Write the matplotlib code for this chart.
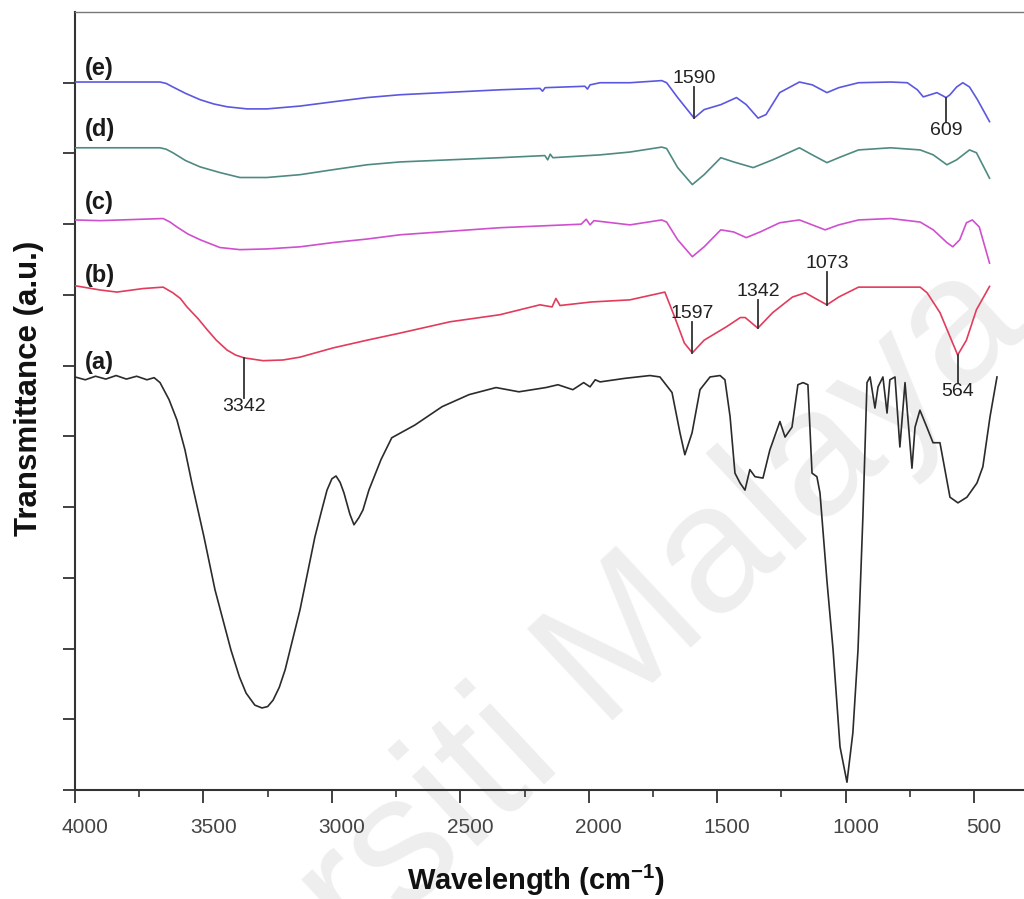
"""
FTIR spectra of samples (a)-(e), stacked with a vertical offset.
"""
import matplotlib
matplotlib.use("Agg")
import matplotlib.pyplot as plt
import matplotlib.transforms as mtransforms
import numpy as np
from matplotlib.ticker import MultipleLocator

plt.rcParams["font.family"] = ["Liberation Sans", "DejaVu Sans"]
plt.rcParams["mathtext.fontset"] = "custom"
plt.rcParams["mathtext.rm"] = "Liberation Sans"
plt.rcParams["mathtext.bf"] = "Liberation Sans:bold"

# ---- spectra (wavenumber in cm-1, offset transmittance in a.u.) ----
wn_a = [4000, 3960, 3920, 3880, 3840, 3800, 3760, 3720, 3692, 3669, 3634, 3603,
        3572, 3545, 3498, 3455, 3393, 3360, 3334, 3300, 3272, 3250, 3229, 3205,
        3182, 3124, 3066, 3040, 3019, 3000, 2984, 2968, 2953, 2930, 2914, 2895,
        2879, 2856, 2809, 2767, 2677, 2571, 2466, 2361, 2272, 2167, 2120, 2062,
        2020, 1995, 1975, 1956, 1860, 1762, 1723, 1676, 1645, 1626, 1598, 1567,
        1528, 1489, 1470, 1450, 1431, 1411, 1392, 1373, 1353, 1322, 1295, 1256,
        1236, 1209, 1186, 1166, 1147, 1131, 1112, 1100, 1073, 1049, 1022, 995,
        972, 952, 933, 917, 905, 886, 874, 855, 839, 828, 808, 789, 769, 742,
        730, 711, 684, 660, 633, 594, 563, 528, 489, 466, 438, 411]
tr_a = [5.84, 5.80, 5.85, 5.81, 5.86, 5.81, 5.85, 5.80, 5.83, 5.76, 5.52, 5.23,
        4.81, 4.34, 3.58, 2.83, 1.98, 1.60, 1.37, 1.20, 1.16, 1.18, 1.27, 1.45,
        1.70, 2.55, 3.58, 3.95, 4.24, 4.40, 4.44, 4.35, 4.20, 3.90, 3.75, 3.85,
        3.96, 4.24, 4.67, 4.98, 5.16, 5.42, 5.59, 5.69, 5.63, 5.69, 5.73, 5.66,
        5.76, 5.70, 5.80, 5.77, 5.82, 5.86, 5.84, 5.62, 5.05, 4.74, 5.05, 5.66,
        5.84, 5.86, 5.80, 5.28, 4.48, 4.34, 4.24, 4.53, 4.43, 4.41, 4.81, 5.21,
        4.99, 5.13, 5.73, 5.76, 5.73, 4.48, 4.43, 4.20, 2.96, 1.98, 0.61, 0.11,
        0.81, 1.98, 3.86, 5.76, 5.84, 5.40, 5.70, 5.84, 5.33, 5.80, 5.84, 4.85,
        5.76, 4.55, 5.13, 5.37, 5.13, 4.91, 4.91, 4.14, 4.06, 4.14, 4.34, 4.57,
        5.28, 5.84]

wn_b = [4000, 3903, 3837, 3735, 3657, 3619, 3590, 3564, 3520, 3486, 3450, 3408,
        3375, 3342, 3268, 3190, 3124, 2996, 2863, 2735, 2540, 2346, 2190, 2143,
        2128, 2112, 1990, 1840, 1716, 1704, 1666, 1628, 1597, 1551, 1464, 1410,
        1391, 1342, 1284, 1207, 1157, 1118, 1073, 1027, 950, 825, 710, 683, 633,
        564, 530, 491, 440]
tr_b = [7.13, 7.07, 7.04, 7.09, 7.11, 7.03, 6.95, 6.83, 6.66, 6.51, 6.36, 6.22,
        6.15, 6.11, 6.07, 6.08, 6.12, 6.25, 6.36, 6.46, 6.62, 6.72, 6.86, 6.83,
        6.95, 6.85, 6.90, 6.93, 7.03, 7.04, 6.69, 6.32, 6.18, 6.36, 6.55, 6.68,
        6.68, 6.53, 6.75, 6.97, 7.03, 6.95, 6.86, 6.97, 7.11, 7.11, 7.11, 7.03,
        6.75, 6.15, 6.36, 6.79, 7.12]

wn_c = [4000, 3903, 3657, 3630, 3603, 3560, 3513, 3436, 3358, 3253, 3124, 2996,
        2863, 2735, 2346, 2030, 2010, 1995, 1980, 1840, 1716, 1697, 1654, 1597,
        1551, 1486, 1436, 1387, 1333, 1257, 1180, 1130, 1080, 1027, 950, 825,
        710, 659, 606, 583, 556, 530, 507, 480, 440]
tr_c = [8.06, 8.05, 8.08, 8.03, 7.96, 7.86, 7.78, 7.67, 7.64, 7.65, 7.68, 7.74,
        7.79, 7.85, 7.95, 8.00, 8.07, 7.99, 8.05, 7.99, 8.06, 8.03, 7.78, 7.54,
        7.68, 7.92, 7.89, 7.81, 7.89, 8.02, 8.06, 7.99, 7.92, 7.99, 8.06, 8.08,
        8.03, 7.92, 7.74, 7.68, 7.78, 8.02, 8.06, 7.96, 7.45]

wn_d = [4000, 3669, 3645, 3619, 3570, 3513, 3436, 3358, 3253, 3124, 2996, 2863,
        2735, 2346, 2171, 2160, 2150, 2140, 1956, 1840, 1716, 1697, 1654, 1597,
        1551, 1486, 1436, 1360, 1284, 1180, 1130, 1073, 1027, 950, 825, 710, 659,
        606, 568, 518, 491, 440]
tr_d = [9.08, 9.08, 9.06, 9.01, 8.90, 8.81, 8.73, 8.66, 8.66, 8.70, 8.77, 8.84,
        8.88, 8.94, 8.97, 8.91, 8.99, 8.94, 8.98, 9.02, 9.09, 9.07, 8.80, 8.56,
        8.70, 8.94, 8.88, 8.80, 8.91, 9.08, 8.98, 8.87, 8.94, 9.05, 9.08, 9.05,
        8.98, 8.84, 8.91, 9.05, 9.01, 8.65]

wn_e = [4000, 3669, 3645, 3619, 3570, 3513, 3460, 3408, 3330, 3253, 3124, 2996,
        2863, 2735, 2346, 2190, 2180, 2170, 2015, 2005, 1995, 1956, 1840, 1716,
        1697, 1654, 1590, 1551, 1486, 1425, 1387, 1341, 1310, 1257, 1180, 1130,
        1073, 1027, 950, 825, 760, 721, 698, 671, 645, 609, 594, 568, 544, 518,
        487, 440]
tr_e = [10.01, 10.01, 9.99, 9.94, 9.85, 9.76, 9.70, 9.66, 9.63, 9.63, 9.67, 9.73,
        9.79, 9.83, 9.90, 9.92, 9.88, 9.93, 9.95, 9.91, 9.97, 10.00, 10.00, 10.03,
        10.00, 9.79, 9.50, 9.62, 9.69, 9.79, 9.69, 9.50, 9.55, 9.86, 10.01, 9.97,
        9.86, 9.93, 10.00, 10.01, 10.00, 9.90, 9.80, 9.83, 9.86, 9.79, 9.83, 9.94,
        10.00, 9.94, 9.76, 9.45]

sample_labels = ["(a)", "(b)", "(c)", "(d)", "(e)"]

# marked band positions
peak_sample = ["(b)", "(b)", "(b)", "(b)", "(b)", "(e)", "(e)"]
peak_wn = [3342, 1597, 1342, 1073, 564, 1590, 609]

# ---- styling ----
colors = ["#2b2b2b", "#e23c5c", "#cf4fcf", "#4f8a82", "#5b58e0"]
label_y = [6.05, 7.28, 8.30, 9.34, 10.20]
peak_dir = [-1, 1, 1, 1, -1, 1, -1]          # +1 marker above the band, -1 below
peak_len = [0.57, 0.44, 0.40, 0.47, 0.39, 0.44, 0.34]

W, H = 1024, 899
fig = plt.figure(figsize=(W / 100, H / 100), dpi=100)
ax = fig.add_axes([75 / W, 109 / H, 950.5 / W, 778 / H])
ax.patch.set_visible(False)

# faint background stamp
ax.text(525 / W, 1 - 803 / H, "Universiti Malaya", transform=fig.transFigure,
        rotation=43, rotation_mode="anchor", ha="center", va="baseline",
        fontsize=131, color="#eeeeee", zorder=0, clip_on=False)

spectra = {
    "(a)": (wn_a, tr_a),
    "(b)": (wn_b, tr_b),
    "(c)": (wn_c, tr_c),
    "(d)": (wn_d, tr_d),
    "(e)": (wn_e, tr_e),
}

for lab, col, ly in zip(sample_labels, colors, label_y):
    wn, tr = spectra[lab]
    ax.plot(wn, tr, color=col, lw=1.2, zorder=3, solid_joinstyle="round")
    ax.text(3961, ly, lab, fontsize=17, fontweight="bold", ha="left",
            va="center", color="#1a1a1a", zorder=4)

for s, w, d, length in zip(peak_sample, peak_wn, peak_dir, peak_len):
    wn, tr = spectra[s]
    # spectrum arrays run high -> low wavenumber
    y0 = np.interp(w, wn[::-1], tr[::-1])
    y1 = y0 + d * length
    ax.plot([w, w], [y0, y1], color="#333333", lw=1.3, zorder=4)
    ax.text(w, y1, str(w), fontsize=14, color="#222222", ha="center",
            va="bottom" if d > 0 else "top", zorder=5)

ax.set_xlim(4000, 300)
ax.set_ylim(0, 11)
ax.xaxis.set_major_locator(MultipleLocator(500))
ax.xaxis.set_minor_locator(MultipleLocator(250))
ax.set_yticks(np.arange(0, 11))

ax.tick_params(axis="x", which="major", direction="out", length=9.5, width=1.3,
               pad=10.5, labelsize=15, labelcolor="#444444", color="#333333")
ax.tick_params(axis="x", which="minor", direction="out", length=5, width=1.2,
               color="#333333")
ax.tick_params(axis="y", which="major", direction="out", length=8.6, width=1.3,
               labelleft=False, color="#333333")

for side in ("left", "bottom"):
    ax.spines[side].set_linewidth(1.5)
    ax.spines[side].set_color("#333333")
ax.spines["top"].set_linewidth(1.0)
ax.spines["top"].set_color("#777777")
ax.spines["right"].set_visible(False)

shift = mtransforms.ScaledTranslation(0.10, 0, fig.dpi_scale_trans)
for t in ax.get_xticklabels():
    t.set_transform(t.get_transform() + shift)

fig.text(37 / W, 1 - 388 / H, "Transmittance (a.u.)", rotation=90,
         rotation_mode="anchor", ha="center", va="baseline",
         fontsize=22.5, fontweight="bold", color="#111111")
fig.text(536 / W, 1 - 890 / H, r"Wavelength (cm$^{\mathbf{-1}}$)", ha="center",
         va="baseline", fontsize=21, fontweight="bold", color="#111111")

fig.savefig("out.png", dpi=100)
